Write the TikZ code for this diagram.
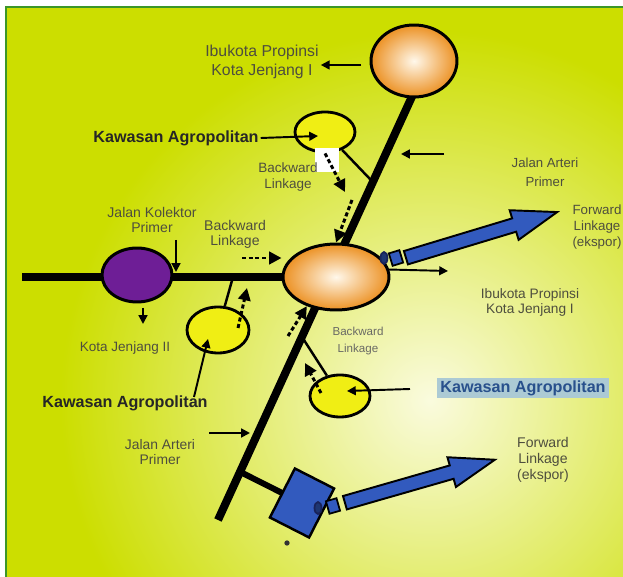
\documentclass[tikz,border=0pt]{standalone}
\usepackage{fontspec}
\setmainfont{Liberation Sans}
\usepackage{xcolor}
\usepackage{tikz}
\usetikzlibrary{positioning,arrows.meta,shapes.geometric,shapes.arrows,calc}

\definecolor{leafgreen}{RGB}{204,222,0}
\definecolor{paleglow}{RGB}{250,251,222}
\definecolor{framegreen}{RGB}{60,150,40}
\definecolor{cityorange}{RGB}{236,145,35}
\definecolor{cityglow}{RGB}{255,248,235}
\definecolor{agroyellow}{RGB}{240,238,20}
\definecolor{kotapurple}{RGB}{110,30,150}
\definecolor{portblue}{RGB}{50,90,190}
\definecolor{plugnavy}{RGB}{25,35,90}
\definecolor{labelgray}{RGB}{78,78,62}
\definecolor{softgray}{RGB}{105,105,100}
\definecolor{tagblue}{RGB}{40,80,140}
\definecolor{tagbox}{RGB}{172,202,212}

\tikzset{
  road/.style={line width=4.6pt},
  spur/.style={line width=1.4pt},
  ptr/.style={line width=1.1pt,-{Triangle[length=5pt,width=5pt]}},
  flow/.style={line width=1.7pt,dash pattern=on 2.3pt off 1.5pt,-{Triangle[length=7pt,width=7pt]}},
  city/.style={ellipse,draw,line width=1.7pt,inner color=cityglow,outer color=cityorange},
  agro/.style={ellipse,draw,line width=1.6pt,fill=agroyellow},
  chip/.style={draw,line width=1pt,fill=portblue,inner sep=0pt,minimum width=0.22cm,minimum height=0.26cm},
  plug/.style={ellipse,draw=plugnavy,line width=1pt,fill=portblue!60!black,inner sep=0pt,minimum width=0.14cm,minimum height=0.24cm},
  export/.style={single arrow,draw,line width=1.1pt,fill=portblue,inner xsep=0pt,inner ysep=0.12cm,
    minimum width=0.58cm,single arrow head extend=0.17cm,single arrow tip angle=38},
  lbl/.style={text=labelgray,align=center,inner sep=1pt,font=\fontsize{7.7}{9}\selectfont},
  agrolbl/.style={text=black!85,inner sep=1pt,font=\fontsize{9.2}{11}\selectfont\bfseries}
}

\begin{document}
\begin{tikzpicture}[x=0.02cm, y=-0.02cm]
\useasboundingbox (0,0) rectangle (623,577);
% background
\fill[white] (0,0) rectangle (623,577);
\fill[leafgreen] (6,7) rectangle (623,577);
\begin{scope}
  \clip (6,7) rectangle (623,577);
  \shade[inner color=paleglow, outer color=leafgreen] (430,400) circle[radius=7.4cm];
\end{scope}
\draw[framegreen, line width=1.2pt] (6,577) -- (6,7) -- (623,7);

% roads
\coordinate (arterytop) at (415,90);
\coordinate (arteryend) at (218,520);
\coordinate (kolektorend) at (22,277);
\coordinate (kolektorhub) at (300,277);
\draw[road] (arterytop) -- (arteryend);
\draw[road, line width=5pt] (kolektorend) -- (kolektorhub);
\coordinate (jA) at ($(arterytop)!0.214!(arteryend)$);
\coordinate (jC) at ($(arterytop)!0.574!(arteryend)$);
\coordinate (jP) at ($(arterytop)!0.888!(arteryend)$);
\coordinate (jB) at (233,277);

% towns and areas
\node (topcity) [city, minimum width=1.72cm, minimum height=1.44cm] at (414,61) {};
\node (hubcity) [city, minimum width=2.12cm, minimum height=1.32cm] at (336,277) {};
\node (kota2) [ellipse, draw, line width=1.7pt, fill=kotapurple, minimum width=1.4cm, minimum height=1.08cm] at (137,275) {};
\node (agroA) [agro, minimum width=1.2cm, minimum height=0.8cm] at (325,132) {};
\node (agroB) [agro, minimum width=1.24cm, minimum height=0.92cm] at (218,330) {};
\node (agroC) [agro, minimum width=1.2cm, minimum height=0.84cm] at (340,396) {};
\node (gapbox) [fill=white, inner sep=0pt, minimum width=0.5cm, minimum height=0.48cm] at (327,160) {};

\draw[spur] (jA) -- (agroA);
\draw[spur] (jB) -- (agroB);
\draw[spur] (jC) -- (agroC);
\draw[road, line width=3.4pt] (jP) -- (302,503);

% ports and exports
\node (port) [draw, line width=1.4pt, fill=portblue, minimum width=0.88cm, minimum height=1.1cm, rotate=-27] at (302,503) {};
\node (plugA) [plug] at (384,258) {};
\node (chipA) [chip, rotate=17] at (396,258) {};
\node (exportA) [export, rotate=16.8, minimum height=3.16cm, anchor=tail] at (405,258) {};
\node (plugB) [plug] at (318,508) {};
\node (chipB) [chip, rotate=16] at (333,506) {};
\node (exportB) [export, rotate=16, minimum height=3.12cm, anchor=tail] at (344,503) {};
\node (speck) [circle, fill=black!80, inner sep=0pt, minimum size=3pt] at (287,543) {};

% labels
\node (lblTop) [lbl, font=\fontsize{9}{10.8}\selectfont] at (262,62) {Ibukota Propinsi\\Kota Jenjang I};
\node (lblAgroA) [agrolbl] at (176,138) {Kawasan Agropolitan};
\node (lblBackA) [lbl] at (288,177) {Backward\\Linkage};
\node (lblArtUp) [lbl, font=\fontsize{7.5}{10.8}\selectfont] at (545,172) {Jalan Arteri\\Primer};
\node (lblKol) [lbl, font=\fontsize{8}{8.5}\selectfont] at (152,220) {Jalan Kolektor\\Primer};
\node (lblBackB) [lbl, font=\fontsize{8}{8.5}\selectfont] at (235,234) {Backward\\Linkage};
\node (lblKota2) [lbl] at (125,348) {Kota Jenjang II};
\node (lblFwdA) [lbl, font=\fontsize{7.6}{9}\selectfont] at (597,227) {Forward\\Linkage\\(ekspor)};
\node (lblIbuMid) [lbl, font=\fontsize{7.8}{8.5}\selectfont] at (530,302) {Ibukota Propinsi\\Kota Jenjang I};
\node (lblBackC) [lbl, text=softgray, font=\fontsize{6.6}{9.5}\selectfont] at (358,341) {Backward\\Linkage};
\node (lblAgroC) [agrolbl, text=tagblue, fill=tagbox, inner xsep=2pt, inner ysep=1.5pt] at (523,388) {Kawasan Agropolitan};
\node (lblArtLow) [lbl, font=\fontsize{7.9}{8.5}\selectfont] at (160,452) {Jalan Arteri\\Primer};
\node (lblFwdB) [lbl, font=\fontsize{8}{9}\selectfont] at (543,460) {Forward\\Linkage\\(ekspor)};
\node (lblAgroB) [agrolbl] at (125,403) {Kawasan Agropolitan};

% pointers
\coordinate (tTop) at (361,65);
\coordinate (tipA) at (318,136);
\coordinate (tArtUp) at (444,154);
\coordinate (hArtUp) at (401,154);
\coordinate (tKol) at (176,240);
\coordinate (hKol) at (176,272);
\coordinate (tKota) at (143,308);
\coordinate (hKota) at (143,324);
\coordinate (tAgroB) at (194,397);
\coordinate (hAgroB) at (208,339);
\coordinate (hHubE) at (448,271);
\coordinate (tArtLow) at (209,433);
\coordinate (hArtLow) at (250,433);
\coordinate (tAgroC) at (410,389);
\coordinate (hAgroC) at (347,391);
\draw[ptr] (tTop) -- (tTop -| lblTop.east);
\draw[ptr] (lblAgroA.east) -- (tipA);
\draw[ptr] (tArtUp) -- (hArtUp);
\draw[ptr] (tKol) -- (hKol);
\draw[ptr] (tKota) -- (hKota);
\draw[ptr] (tAgroB) -- (hAgroB);
\draw[ptr] (hubcity.8) -- (hHubE);
\draw[ptr] (tArtLow) -- (hArtLow);
\draw[ptr] (tAgroC) -- (hAgroC);

% linkages
\coordinate (fA) at (345,192);
\coordinate (fA2) at (352,200);
\coordinate (fB) at (242,258);
\coordinate (fB2t) at (238,328);
\coordinate (fB2h) at (247,288);
\coordinate (fH) at (288,336);
\coordinate (fCt) at (321,393);
\coordinate (fCh) at (305,363);
\draw[flow] (agroA.south) -- (fA);
\draw[flow] (fA2) -- (hubcity.north);
\draw[flow] (fB) -- (fB -| hubcity.west);
\draw[flow] (fB2t) -- (fB2h);
\draw[flow] (fH) -- (hubcity.225);
\draw[flow] (fCt) -- (fCh);
\end{tikzpicture}
\end{document}
